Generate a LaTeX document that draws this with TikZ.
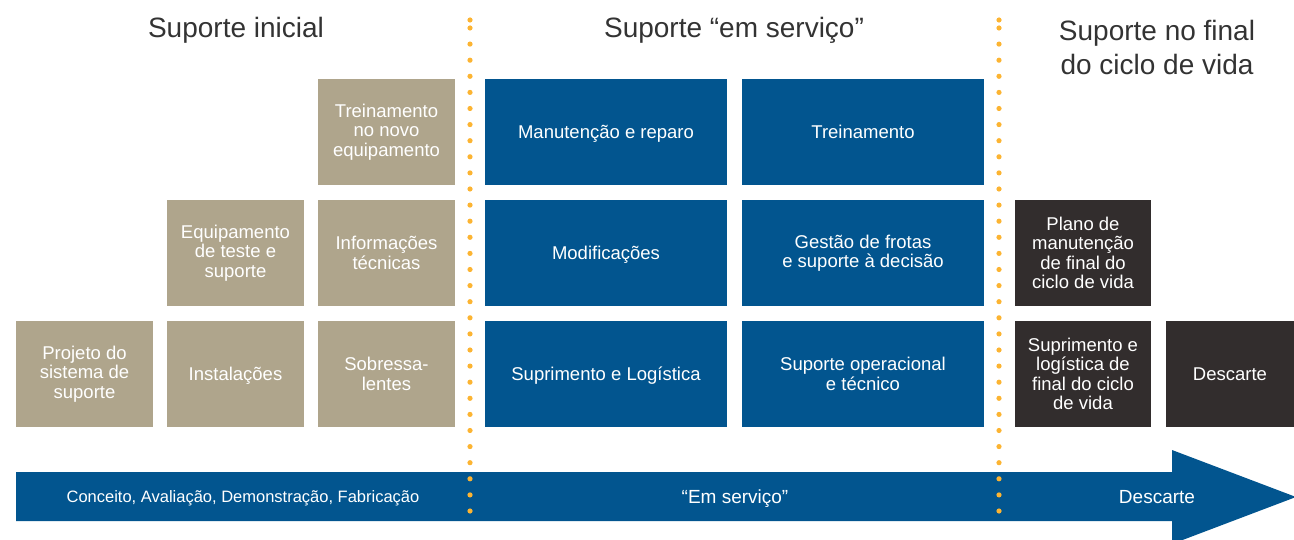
\documentclass[tikz,border=0pt]{standalone}
\usepackage{fontspec}
\setmainfont{Liberation Sans}
\definecolor{tanc}{HTML}{AFA58C}
\definecolor{bluec}{HTML}{02558F}
\definecolor{darkc}{HTML}{322D2D}
\definecolor{dotc}{HTML}{FCB432}
\definecolor{headc}{HTML}{333333}
\begin{document}
\begin{tikzpicture}[x=1pt,y=-1pt,
  box/.style={rectangle, inner sep=0pt, align=center, text=white,
    minimum height=106pt, font=\fontsize{18.5}{19.5}\selectfont},
  one/.style={text height=13.5pt, text depth=0pt},
  tanbox/.style={box, fill=tanc, minimum width=137pt},
  bluebox/.style={box, fill=bluec, minimum width=242pt},
  darkbox/.style={box, fill=darkc, minimum width=136pt},
  head/.style={text=headc, align=center, inner sep=0pt, font=\fontsize{28}{34}\selectfont},
  arrowlbl/.style={text=white, inner sep=0pt, text depth=0pt, font=\fontsize{16.5}{18}\selectfont},
  arrowlblb/.style={arrowlbl, font=\fontsize{19}{20}\selectfont},
  dot/.style={fill=dotc}]
\useasboundingbox (0,0) rectangle (1294,540);
\clip (0,0) rectangle (1294,540);
% headers
\node[head] (h1) at (236,30) {Suporte inicial};
\node[head] (h2) at (734,30) {Suporte “em serviço”};
\node[head] (h3) at (1157,47) {Suporte no final\\do ciclo de vida};
% tan boxes
\node[tanbox] (t13) at (386.5,132) {Treinamento\\no novo\\equipamento};
\node[tanbox] (t22) at (235.5,253) {Equipamento\\de teste e\\suporte};
\node[tanbox] (t23) at (386.5,253) {Informações\\técnicas};
\node[tanbox] (t31) at (84.5,374) {Projeto do\\sistema de\\suporte};
\node[tanbox, one] (t32) at (235.5,374) {Instalações};
\node[tanbox] (t33) at (386.5,374) {Sobressa-\\lentes};
% blue boxes
\node[bluebox, one] (b14) at (606,132) {Manutenção e reparo};
\node[bluebox, one] (b15) at (863,132) {Treinamento};
\node[bluebox, one] (b24) at (606,253) {Modificações};
\node[bluebox] (b25) at (863,253) {Gestão de frotas\\e suporte à decisão};
\node[bluebox, one] (b34) at (606,374) {Suprimento e Logística};
\node[bluebox] (b35) at (863,374) {Suporte operacional\\e técnico};
% dark boxes
\node[darkbox] (d26) at (1083,253) {Plano de\\manutenção\\de final do\\ciclo de vida};
\node[darkbox] (d36) at (1083,374) {Suprimento e\\logística de\\final do ciclo\\de vida};
\node[darkbox, one, minimum width=128pt] (d37) at (1230,374) {Descarte};
% arrow
\fill[bluec] (16,472) -- (1172,472) -- (1172,450) -- (1296,497) -- (1172,544) -- (1172,521) -- (16,521) -- cycle;
\node[arrowlbl] (a1) at (243,497) {Conceito, Avaliação, Demonstração, Fabricação};
\node[arrowlblb] (a2) at (735,497) {“Em serviço”};
\node[arrowlblb] (a3) at (1157,497) {Descarte};
% dotted dividers
\foreach \xx in {470,999} {
  \fill[dot] (\xx,20) circle (2.6);
  \foreach \i in {0,...,30} \fill[dot] (\xx,28+16.1*\i) circle (2.6);
}
\end{tikzpicture}
\end{document}
